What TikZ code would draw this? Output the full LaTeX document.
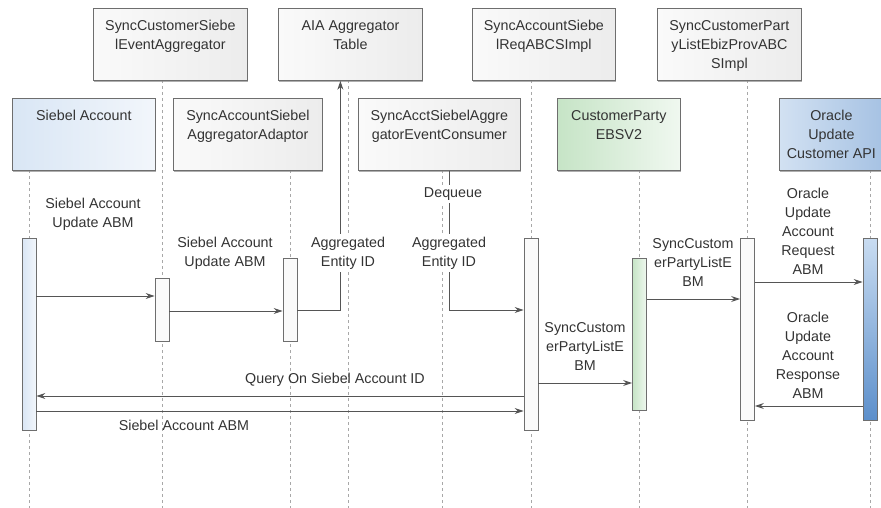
\documentclass[tikz,border=0pt]{standalone}
\usepackage{fontspec}
\setmainfont{Liberation Sans}
\usetikzlibrary{arrows.meta,shadows}
\definecolor{txt}{HTML}{333333}
\definecolor{bline}{HTML}{6E6E6E}
\definecolor{lifec}{HTML}{A8A8A8}
\definecolor{msgc}{HTML}{555555}
\definecolor{grayA}{HTML}{FAFAFA}
\definecolor{grayB}{HTML}{ECECEC}
\definecolor{blueA}{HTML}{F2F6FB}
\definecolor{blueB}{HTML}{D9E6F5}
\definecolor{greenA}{HTML}{F0F8F0}
\definecolor{greenB}{HTML}{C6E4C6}
\definecolor{oraA}{HTML}{D2E1F2}
\definecolor{oraB}{HTML}{A6C2E3}
\definecolor{oraActA}{HTML}{C9DCF1}
\definecolor{oraActB}{HTML}{5C8FCB}
\begin{document}
\begin{tikzpicture}[x=1pt,y=-1pt,
  font=\fontsize{14.3}{19}\selectfont, text=txt,
  box/.style={draw=bline, line width=0.8pt, anchor=north west, inner sep=0pt,
    minimum height=72pt,
    drop shadow={shadow xshift=0.8pt, shadow yshift=-1.6pt, fill=black!45, opacity=0.7}},
  graybox/.style={box, left color=grayA, right color=grayB},
  bluebox/.style={box, left color=blueB, right color=blueA},
  greenbox/.style={box, left color=greenB, right color=greenA},
  orabox/.style={box, left color=oraA, right color=oraB},
  boxtext/.style={anchor=north, align=center, inner sep=0pt},
  act/.style={draw=bline, line width=0.8pt, anchor=north, minimum width=14pt, inner sep=0pt},
  grayact/.style={act, fill=grayA},
  blueact/.style={act, left color=blueB, right color=blueA},
  greenact/.style={act, left color=greenB, right color=greenA, draw=bline},
  oraact/.style={act, top color=oraActA, bottom color=oraActB},
  life/.style={draw=lifec, line width=0.8pt, dash pattern=on 3pt off 3pt},
  msg/.style={draw=msgc, line width=1pt, -{Stealth[length=9pt,width=6pt]}},
  lbl/.style={align=center, inner sep=1pt},
  wlbl/.style={lbl, fill=white, inner sep=3pt}
]
\useasboundingbox (0,0) rectangle (881,508);

% lifelines
\coordinate (lsa) at (29,170);   \coordinate (esa) at (29,510);
\coordinate (lb1) at (162,80);   \coordinate (eb1) at (162,510);
\coordinate (lad) at (290,170);  \coordinate (ead) at (290,510);
\coordinate (lb2) at (348,80);   \coordinate (eb2) at (348,510);
\coordinate (lec) at (442,170);  \coordinate (eec) at (442,510);
\coordinate (lb3) at (531,80);   \coordinate (eb3) at (531,510);
\coordinate (lcp) at (639.5,170);\coordinate (ecp) at (639.5,510);
\coordinate (lb4) at (747.5,80); \coordinate (eb4) at (747.5,510);
\coordinate (lor) at (870,170);  \coordinate (eor) at (870,510);
\foreach \n in {sa,b1,ad,b2,ec,b3,cp,b4,or}{\draw[life] (l\n) -- (e\n);}

% header boxes, top row
\node[graybox, minimum width=154pt] (b1) at (93,8) {};
\node[boxtext] (b1t) at ([yshift=-12pt]b1.north) {SyncCustomerSiebe\\lEventAggregator};
\node[graybox, minimum width=144pt] (b2) at (278,8) {};
\node[boxtext] (b2t) at ([yshift=-12pt]b2.north) {AIA Aggregator\\Table};
\node[graybox, minimum width=143pt] (b3) at (472,8) {};
\node[boxtext] (b3t) at ([yshift=-12pt]b3.north) {SyncAccountSiebe\\lReqABCSImpl};
\node[graybox, minimum width=144pt] (b4) at (657,8) {};
\node[boxtext] (b4t) at ([yshift=-12pt]b4.north) {SyncCustomerPart\\yListEbizProvABC\\SImpl};

% header boxes, second row
\node[bluebox, minimum width=143pt] (sa) at (12,98) {};
\node[boxtext] (sat) at ([yshift=-12pt]sa.north) {Siebel Account};
\node[graybox, minimum width=149pt] (ad) at (173,98) {};
\node[boxtext] (adt) at ([yshift=-12pt]ad.north) {SyncAccountSiebel\\AggregatorAdaptor};
\node[graybox, minimum width=162pt] (ec) at (358,98) {};
\node[boxtext] (ect) at ([yshift=-12pt]ec.north) {SyncAcctSiebelAggre\\gatorEventConsumer};
\node[greenbox, minimum width=123pt] (cp) at (557,98) {};
\node[boxtext] (cpt) at ([yshift=-12pt]cp.north) {CustomerParty\\EBSV2};
\node[orabox, minimum width=104pt] (or) at (779,98) {};
\node[boxtext] (ort) at ([yshift=-12pt]or.north) {Oracle\\Update\\Customer API};

% activations
\node[blueact, minimum height=192pt] (aSA) at (29,238) {};
\node[grayact, minimum height=63pt] (aB1) at (162,278) {};
\node[grayact, minimum height=83pt] (aAd) at (290,258) {};
\node[grayact, minimum height=192pt] (aAB) at (531,238) {};
\node[greenact, minimum height=152pt] (aCP) at (639.5,258) {};
\node[grayact, minimum height=182pt] (aB4) at (747.5,238) {};
\node[oraact, minimum height=182pt] (aOr) at (870,238) {};

% messages
\draw[msg] (aSA.east |- 0,296) -- (aB1.west |- 0,296);
\draw[msg] (aB1.east |- 0,311) -- (aAd.west |- 0,311);
\draw[msg] (aAd.east |- 0,310) -| ([xshift=-10pt]b2.south);
\draw[msg] ([xshift=10pt]ec.south) |- (aAB.west |- 0,310);
\draw[msg] (aAB.east |- 0,383) -- (aCP.west |- 0,383);
\draw[msg] (aAB.west |- 0,396) -- (aSA.east |- 0,396);
\draw[msg] (aSA.east |- 0,411) -- (aAB.west |- 0,411);
\draw[msg] (aCP.east |- 0,299) -- (aB4.west |- 0,299);
\draw[msg] (aB4.east |- 0,282) -- (aOr.west |- 0,282);
\draw[msg] (aOr.west |- 0,406) -- (aB4.east |- 0,406);

% labels
\node[lbl] (l1) at (93,214) {Siebel Account\\Update ABM};
\node[lbl] (l2) at (225,253) {Siebel Account\\Update ABM};
\node[wlbl] (l3) at (348,253) {Aggregated\\Entity ID};
\node[wlbl] (l4) at (453,194) {Dequeue};
\node[wlbl] (l5) at (449,253) {Aggregated\\Entity ID};
\node[lbl] (l6) at (585,347) {SyncCustom\\erPartyListE\\BM};
\node[lbl] (l7) at (335,380) {Query On Siebel Account ID};
\node[lbl] (l8) at (184,425) {Siebel Account ABM};
\node[lbl] (l9) at (693,263) {SyncCustom\\erPartyListE\\BM};
\node[lbl] (l10) at (808,231) {Oracle\\Update\\Account\\Request\\ABM};
\node[lbl] (l11) at (808,355) {Oracle\\Update\\Account\\Response\\ABM};
\end{tikzpicture}
\end{document}
